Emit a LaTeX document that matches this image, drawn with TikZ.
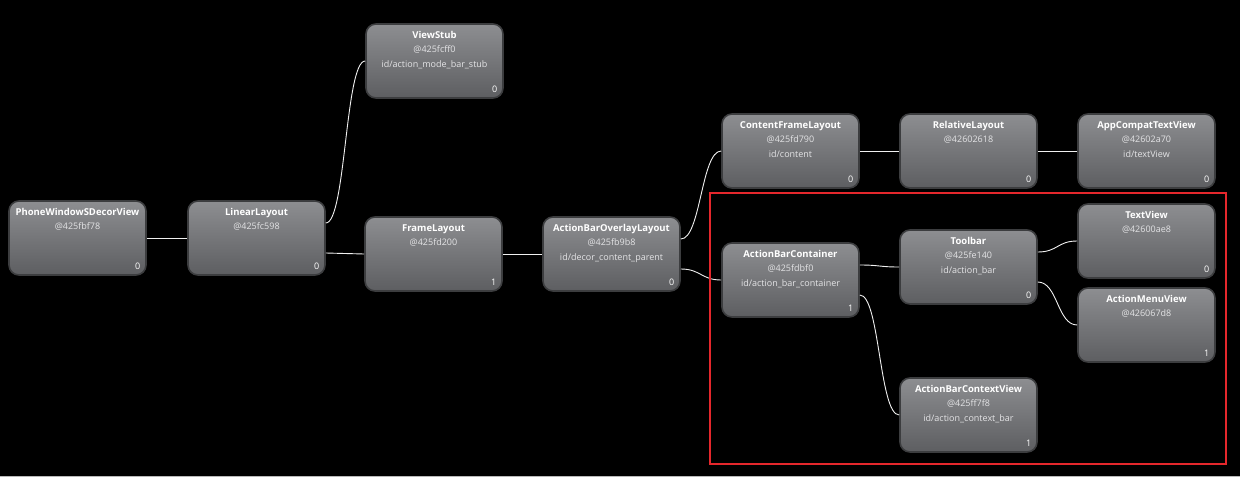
\documentclass[tikz,border=0pt]{standalone}
\usepackage{fontspec}
\setmainfont{Open Sans}
\usetikzlibrary{calc}

\definecolor{boxtop}{HTML}{8D8E91}
\definecolor{boxbot}{HTML}{5D5E61}
\definecolor{boxline}{HTML}{3C3D3F}
\definecolor{subtext}{HTML}{E4E4E6}
\definecolor{frame}{HTML}{E5272C}

\tikzset{
  viewbox/.style={rectangle, rounded corners=10pt, minimum width=137pt,
    minimum height=74pt, inner sep=0pt, top color=boxtop, bottom color=boxbot,
    draw=boxline, line width=1.6pt},
  vtitle/.style={anchor=base, inner sep=0pt, text=white, font=\fontsize{9.5}{11}\selectfont\bfseries},
  vsub/.style={anchor=base, inner sep=0pt, text=subtext, font=\fontsize{9}{10}\selectfont},
  vcount/.style={anchor=base, inner sep=0pt, text=white, font=\fontsize{9}{10}\selectfont},
  wire/.style={draw=white!88!gray, line width=0.9pt,
    to path={.. controls +(20,0) and +(-20,0) .. (\tikztotarget)}},
}

% one view of the hierarchy: name, left, top, class, address, id, index
\newcommand{\viewbox}[7]{%
  \node[viewbox] (#1) at (#2+68.5,#3+37) {};
  \node[vtitle] (#1-t) at ($(#1.north)+(0,15.5)$) {#4};
  \node[vsub] (#1-a) at ($(#1.north)+(0,29.5)$) {#5};
  \if\relax\detokenize{#6}\relax\else
    \node[vsub] (#1-i) at ($(#1.north)+(0,44)$) {#6};
  \fi
  \node[vcount] (#1-c) at ($(#1.south east)+(-9,-6.5)$) {#7};
}

\begin{document}
\begin{tikzpicture}[x=1pt, y=-1pt]
  % canvas
  \fill[black] (0,0) rectangle (1240,477);
  \useasboundingbox (0,0) rectangle (1240,477);
  \fill[gray!55] (0,475.8) rectangle (1240,477);

  % views
  \viewbox{phone}{9}{201}{PhoneWindowSDecorView}{@425fbf78}{}{0}
  \viewbox{linear}{188}{201}{LinearLayout}{@425fc598}{}{0}
  \viewbox{stub}{366}{24}{ViewStub}{@425fcff0}{id/action\_mode\_bar\_stub}{0}
  \viewbox{frame}{365}{217}{FrameLayout}{@425fd200}{}{1}
  \viewbox{overlay}{543}{217}{ActionBarOverlayLayout}{@425fb9b8}{id/decor\_content\_parent}{0}
  \viewbox{content}{722}{114}{ContentFrameLayout}{@425fd790}{id/content}{0}
  \viewbox{relative}{900}{114}{RelativeLayout}{@42602618}{}{0}
  \viewbox{apptext}{1078}{114}{AppCompatTextView}{@42602a70}{id/textView}{0}
  \viewbox{container}{722}{243}{ActionBarContainer}{@425fdbf0}{id/action\_bar\_container}{1}
  \viewbox{toolbar}{900}{230}{Toolbar}{@425fe140}{id/action\_bar}{0}
  \viewbox{textview}{1078}{204}{TextView}{@42600ae8}{}{0}
  \viewbox{menu}{1078}{288}{ActionMenuView}{@426067d8}{}{1}
  \viewbox{context}{900}{378}{ActionBarContextView}{@425ff7f8}{id/action\_context\_bar}{1}

  % parent-child links
  \draw[wire] (phone.east) to (linear.west);
  \draw[wire] ($(linear.east)+(0,-15)$) to (stub.west);
  \draw[wire] ($(linear.east)+(0,15)$) to (frame.west);
  \draw[wire] (frame.east) to (overlay.west);
  \draw[wire] ($(overlay.east)+(0,-15)$) to (content.west);
  \draw[wire] ($(overlay.east)+(0,15)$) to (container.west);
  \draw[wire] (content.east) to (relative.west);
  \draw[wire] (relative.east) to (apptext.west);
  \draw[wire] ($(container.east)+(0,-15)$) to (toolbar.west);
  \draw[wire] ($(container.east)+(0,15)$) to (context.west);
  \draw[wire] ($(toolbar.east)+(0,-15)$) to (textview.west);
  \draw[wire] ($(toolbar.east)+(0,15)$) to (menu.west);

  % highlighted action bar subtree
  \draw[frame, line width=2pt] (710,193) rectangle (1226,464);
\end{tikzpicture}
\end{document}
